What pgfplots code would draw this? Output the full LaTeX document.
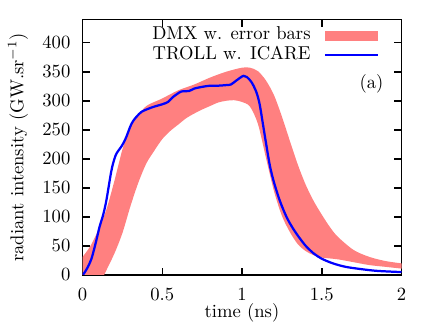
\documentclass[border=0pt]{standalone}
\usepackage{pgfplots}
\pgfplotsset{compat=1.18}
\usepgfplotslibrary{fillbetween}
\definecolor{bandred}{HTML}{FF8080}
\definecolor{trollblue}{HTML}{0000FF}

% upper / lower edge of the DMX error band
\pgfplotstableread{
x y
0.00 31
0.05 50
0.10 78
0.15 113
0.20 162
0.25 216
0.30 257
0.35 276
0.40 291
0.45 298
0.50 304
0.60 318
0.70 328
0.80 340
0.90 350
1.00 357
1.05 357
1.10 351
1.15 335
1.20 310
1.25 273
1.30 231
1.35 190
1.40 155
1.45 127
1.50 104
1.55 83
1.60 66
1.70 43
1.80 31
1.90 24
2.00 20
}\dmxup
\pgfplotstableread{
x y
0.000 -74
0.135 0
0.20 37
0.25 72
0.30 118
0.35 159
0.40 192
0.45 214
0.50 234
0.55 248
0.60 259
0.65 270
0.70 278
0.75 285
0.80 291
0.85 297
0.90 300
0.95 301
1.00 298
1.05 290
1.10 260
1.15 202
1.20 145
1.25 102
1.30 74
1.35 53
1.40 41
1.45 34
1.50 30
1.60 27
1.70 22
1.80 17
1.90 14
2.00 11
}\dmxlo
\pgfplotstableread{
x y
0.00 0
0.01 3
0.03 12
0.055 27
0.08 52
0.107 83
0.13 104
0.15 129
0.18 178
0.20 200
0.215 210
0.243 221
0.26 229
0.275 238
0.30 256
0.317 265
0.34 273
0.37 281
0.41 286
0.45 290
0.50 294
0.536 298
0.565 306
0.59 311
0.62 316
0.67 317
0.70 321
0.75 324
0.80 326
0.85 326
0.90 327
0.93 328
0.96 334
0.99 340
1.01 343
1.03 341
1.06 332
1.09 315
1.11 295
1.13 262
1.15 228
1.175 188
1.20 160
1.237 128
1.279 100
1.32 80
1.36 64
1.40 50
1.45 37
1.50 28
1.57 20
1.65 14
1.75 10
1.85 7
2.00 5
}\troll

\begin{document}
\begin{tikzpicture}
\begin{axis}[
  scale only axis, width=170.67bp, height=136.69bp,
  xmin=0, xmax=2, ymin=0, ymax=440,
  xtick={0,0.5,1,1.5,2}, xticklabels={0,0.5,1,1.5,2},
  ytick={0,50,...,400},
  minor tick num=0,
  tick align=inside, major tick length=3.8bp,
  axis line style={black, line width=0.8bp},
  every tick/.style={black, line width=0.8bp},
  xticklabel style={inner sep=0pt, yshift=-6.6bp},
  yticklabel style={inner sep=0pt, xshift=-6.3bp},
  xlabel={time (ns)},
  ylabel={radiant intensity (GW.sr$^{-1}$)},
  xlabel style={at={(axis description cs:0.5,-0.15)}, anchor=center},
  ylabel style={at={(axis description cs:-0.2022,0.5)}, anchor=center},
  legend plot pos=right,
  legend cell align=right,
  legend style={draw=none, fill=none, inner sep=0pt, outer sep=0pt,
    at={(axis description cs:0.9295,0.9734)}, anchor=north east,
    column sep=7bp, row sep=0pt,
    nodes={inner sep=0pt, text height=7.3bp, text depth=3bp}},
]
\addplot[name path=up, draw=none, smooth, forget plot] table {\dmxup};
\addplot[name path=lo, draw=none, smooth, forget plot] table {\dmxlo};
\addplot[fill=bandred, draw=none,
  legend image code/.code={\fill[bandred] (0bp,-2.85bp) rectangle (28.4bp,2.85bp);}]
  fill between[of=up and lo];
\addlegendentry{DMX w. error bars}
\addplot[trollblue, line width=1.2bp, smooth,
  legend image code/.code={\draw[trollblue, line width=1.2bp] (0bp,0bp) -- (28.4bp,0bp);}]
  table {\troll};
\addlegendentry{TROLL w. ICARE}
\node[anchor=center] at (axis cs:1.812,329) {(a)};
\end{axis}
\pgfresetboundingbox
\path ([xshift=-44.14bp,yshift=-27.82bp]current axis.south west) rectangle ([xshift=17.92bp,yshift=10.43bp]current axis.north east);
\end{tikzpicture}
\end{document}
